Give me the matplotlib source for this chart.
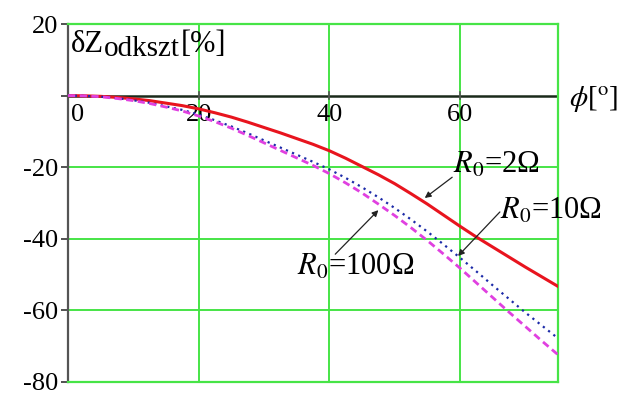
import matplotlib
matplotlib.use("Agg")
import matplotlib.pyplot as plt

plt.rcParams['mathtext.fontset'] = 'stix'
plt.rcParams['font.family'] = ['Liberation Serif', 'DejaVu Serif']

phi = [0, 2.5, 5, 7.5, 10, 12.5, 15, 17.5, 20, 22.5, 25, 27.5, 30, 32.5, 35, 37.5,
       40, 42.5, 45, 47.5, 50, 52.5, 55, 57.5, 60, 62.5, 65, 67.5, 70, 72.5, 75]
dz_r2 = [0, -0.05, -0.2, -0.5, -0.9, -1.4, -2.1, -2.8, -3.7, -4.8, -6.0, -7.4, -8.9,
         -10.4, -12.0, -13.6, -15.4, -17.5, -19.8, -22.1, -24.6, -27.4, -30.3, -33.4,
         -36.5, -39.5, -42.3, -45.1, -47.9, -50.6, -53.3]
dz_r10 = [0, -0.08, -0.3, -0.7, -1.3, -2.0, -3.0, -4.0, -5.3, -6.9, -8.6, -10.5, -12.5,
          -14.5, -16.5, -18.5, -20.6, -23.0, -25.6, -28.4, -31.4, -34.6, -38.0, -41.6,
          -45.3, -49.1, -53.0, -56.8, -60.6, -64.2, -67.8]
dz_r100 = [0, -0.08, -0.3, -0.8, -1.4, -2.2, -3.2, -4.3, -5.7, -7.3, -9.1, -11.1, -13.2,
           -15.3, -17.4, -19.5, -21.8, -24.4, -27.2, -30.3, -33.5, -36.9, -40.5, -44.3,
           -48.2, -52.3, -56.4, -60.5, -64.5, -68.5, -72.4]

x_ticks = [0, 20, 40, 60]
y_ticks = [20, -20, -40, -60, -80]

grid_col = '#46e446'

fig = plt.figure(figsize=(6.27, 3.94), dpi=100)
ax = fig.add_axes([0.1085, 0.0305, 0.7815, 0.9085])
ax.set_xlim(0, 75)
ax.set_ylim(-80, 20)

# grid and frame
for gx in [20, 40, 60]:
    ax.axvline(gx, color=grid_col, lw=1.4, zorder=1)
for gy in [20, -20, -40, -60, -80]:
    ax.axhline(gy, color=grid_col, lw=1.4, zorder=1)
for side in ['top', 'right', 'bottom']:
    ax.spines[side].set_color(grid_col)
    ax.spines[side].set_linewidth(1.6)
ax.spines['left'].set_color('#555555')
ax.spines['left'].set_linewidth(1.6)
ax.axhline(0, color='#1a2a1a', lw=1.8, zorder=2)

# x tick marks on the zero line
for tx in x_ticks[1:]:
    ax.plot([tx, tx], [-0.9, 0.9], color='#555555', lw=1.2, zorder=2)

ax.set_xticks([])
ax.set_yticks(y_ticks + [0])
ax.set_yticklabels([str(v) for v in y_ticks] + [''])
ax.tick_params(axis='y', direction='out', length=5, width=1.2, color='#333333',
               labelsize=19, pad=2)

for tx in x_ticks:
    ax.text(tx + (1.4 if tx == 0 else 0), -2.3, str(tx), ha='center', va='top',
            fontsize=19, zorder=3)

ax.plot(phi, dz_r2, color='#e8141e', lw=2.2, zorder=4)
ax.plot(phi, dz_r10, color='#1c2aa8', lw=1.6, ls=(0, (1, 2)), zorder=4)
ax.plot(phi, dz_r100, color='#e040e0', lw=2.0, ls=(0, (2.6, 1.6)), zorder=4)

# axis titles in the Mathcad manner: quantity inside the plot, angle to the right
t1 = ax.text(0.4, 12.2, 'δZ', fontsize=22, va='baseline', ha='left', zorder=5)
t2 = ax.annotate('odkszt', xy=(1, 0), xycoords=t1, xytext=(0.5, -2.5),
                 textcoords='offset points', fontsize=21, va='bottom', ha='left', zorder=5)
ax.annotate('[%]', xy=(1, 0), xycoords=t2, xytext=(0.5, 2.5),
            textcoords='offset points', fontsize=22, va='bottom', ha='left', zorder=5)
ax.text(1.022, 0.79, r'$\phi$[$^{\mathrm{o}}$]', transform=ax.transAxes,
        fontsize=21, va='center', ha='left')

arrow = dict(arrowstyle='-|>', color='#222222', lw=0.9, mutation_scale=9,
             shrinkA=0, shrinkB=0)
ax.annotate('', xy=(54.6, -28.6), xytext=(58.8, -22.8), arrowprops=arrow, zorder=6)
ax.text(59.0, -21.6, r'$R_0$=2Ω', fontsize=22, ha='left', va='baseline', zorder=6)
ax.annotate('', xy=(59.7, -44.8), xytext=(66.1, -32.5), arrowprops=arrow, zorder=6)
ax.text(66.1, -34.5, r'$R_0$=10Ω', fontsize=22, ha='left', va='baseline', zorder=6)
ax.annotate('', xy=(47.5, -32.0), xytext=(40.9, -44.3), arrowprops=arrow, zorder=6)
ax.text(35.1, -50.1, r'$R_0$=100Ω', fontsize=22, ha='left', va='baseline', zorder=6)

fig.savefig('out.png', dpi=100)
